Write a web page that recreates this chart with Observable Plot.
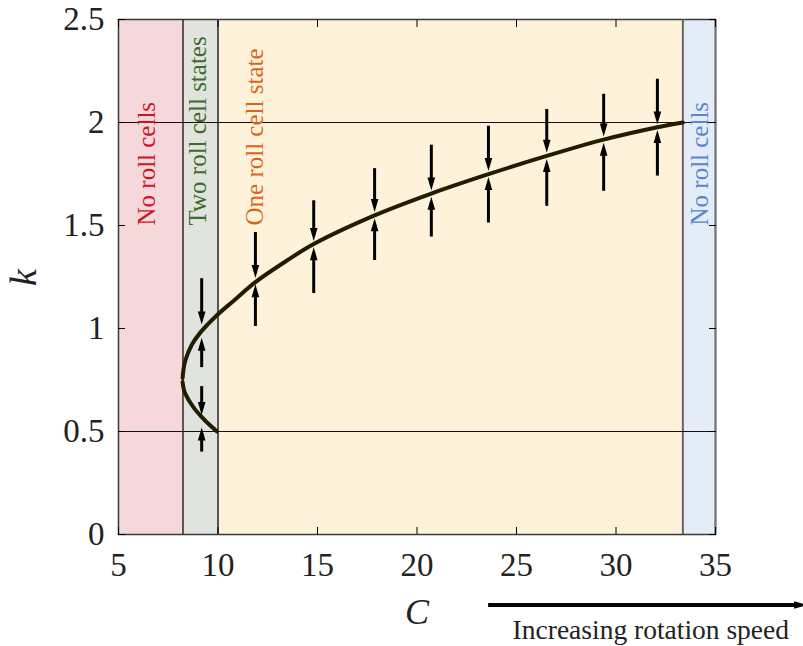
<!DOCTYPE html>
<html><head><meta charset="utf-8">
<script src="https://cdn.jsdelivr.net/npm/d3@7"></script>
<script src="https://cdn.jsdelivr.net/npm/@observablehq/plot@0.6"></script>
<style>
body{margin:0;background:#fff;}
#chart svg{display:block;}
</style></head><body><div id="chart"></div>
<script>
// ---- data ----
const xTicks = [5, 10, 15, 20, 25, 30, 35];
const yTicks = [0, 0.5, 1, 1.5, 2, 2.5];
const yTickLabels = ["0", "0.5", "1", "1.5", "2", "2.5"];

const bandStart = [5, 8.24, 10, 33.36];
const bandEnd = [8.24, 10, 33.36, 35];
const bandLabels = ["No roll cells", "Two roll cell states", "One roll cell state", "No roll cells"];
const labelC = [6.45, 9.02, 11.85, 34.2];
const labelK = 1.5;
const thresholdK = [0.5, 2];

// upper branch of the neutral curve (C, k)
const upperC = [8.22, 8.28, 8.36, 8.69, 9.11, 9.92, 10.79, 11.88, 13.47, 14.81, 17.87, 20.72, 23.59, 26.52, 29.38, 32.08, 33.36];
const upperK = [0.76, 0.81, 0.845, 0.922, 0.98, 1.062, 1.135, 1.225, 1.33, 1.41, 1.549, 1.655, 1.749, 1.838, 1.917, 1.977, 2.0];
// lower branch
const lowerC = [8.22, 8.27, 8.36, 8.77, 9.2, 9.6, 9.95];
const lowerK = [0.74, 0.71, 0.683, 0.617, 0.569, 0.53, 0.50];

// stability arrows
const arrowC = [9.18, 9.18, 11.88, 14.81, 17.87, 20.72, 23.59, 26.52, 29.38, 32.08];
const downFrom = [1.242, 0.718, 1.466, 1.62, 1.776, 1.89, 1.982, 2.063, 2.137, 2.21];
const downTo = [1.02, 0.58, 1.245, 1.425, 1.565, 1.67, 1.765, 1.853, 1.932, 1.99];
const upFrom = [0.81, 0.40, 1.01, 1.17, 1.33, 1.444, 1.512, 1.593, 1.666, 1.74];
const upTo = [0.955, 0.52, 1.215, 1.395, 1.535, 1.64, 1.735, 1.823, 1.902, 1.963];

const speedText = "Increasing rotation speed";
const speedFromC = 23.6, speedToC = 39.6, speedK = -0.342, speedTextC = 31.75, speedTextK = -0.465;

// ---- styles ----
const bandFill = ["#f4d8db", "#e1e4de", "#fef3da", "#e4ecf7"];
const labelColor = ["#d0141e", "#3d6b2c", "#d8671c", "#5a86cf"];
const edgeColor = ["#3a2020", "#555555", "#666666"];
const serif = "Liberation Serif, Times New Roman, serif";

const upper = upperC.map((c, i) => ({C: c, k: upperK[i]}));
const lower = lowerC.map((c, i) => ({C: c, k: lowerK[i]}));
const downs = arrowC.map((c, i) => ({C: c, from: downFrom[i], to: downTo[i]}));
const ups = arrowC.map((c, i) => ({C: c, from: upFrom[i], to: upTo[i]}));

// narrow filled arrow head, tip at origin pointing up
const head = {draw(ctx) { ctx.moveTo(0, 0); ctx.lineTo(3.8, 13); ctx.lineTo(-3.8, 13); ctx.closePath(); }};

const marks = [];
bandStart.forEach((s, i) => marks.push(Plot.rect([i], {x1: () => s, x2: () => bandEnd[i], y1: () => 0, y2: () => 2.5, fill: bandFill[i]})));
marks.push(Plot.frame({stroke: "#3a3a3a", strokeWidth: 1.5}));
marks.push(Plot.ruleX([bandEnd[0]], {stroke: edgeColor[0], strokeWidth: 1.5}));
marks.push(Plot.ruleX([bandEnd[1]], {stroke: edgeColor[1], strokeWidth: 2}));
marks.push(Plot.ruleX([bandEnd[2]], {stroke: edgeColor[2], strokeWidth: 2}));
marks.push(Plot.ruleX([35], {stroke: "#777", strokeWidth: 2}));
marks.push(Plot.ruleY(thresholdK, {stroke: "#111", strokeWidth: 1.2}));
bandLabels.forEach((t, i) => marks.push(Plot.text([t], {x: () => labelC[i], y: () => labelK, text: d => d, rotate: -90, textAnchor: "start", fill: labelColor[i], fontSize: 25, fontFamily: serif})));
marks.push(Plot.line(lower, {x: "C", y: "k", stroke: "#241c00", strokeWidth: 4, curve: "catmull-rom"}));
marks.push(Plot.line(upper, {x: "C", y: "k", stroke: "#241c00", strokeWidth: 4, curve: "catmull-rom"}));
marks.push(Plot.ruleX(downs, {x: "C", y1: "from", y2: "to", stroke: "#000", strokeWidth: 3, insetBottom: 6}));
marks.push(Plot.ruleX(ups, {x: "C", y1: "to", y2: "from", stroke: "#000", strokeWidth: 3, insetTop: 6}));
marks.push(Plot.dot(downs, {x: "C", y: "to", symbol: head, rotate: 180, fill: "#000", stroke: null, r: 3}));
marks.push(Plot.dot(ups, {x: "C", y: "to", symbol: head, rotate: 0, fill: "#000", stroke: null, r: 3}));
// axes with inward ticks
marks.push(Plot.axisX({ticks: xTicks, anchor: "bottom", tickSize: -7, tickPadding: 25, fontSize: 33, fontFamily: serif, fill: "#222", label: null}));
marks.push(Plot.axisX({ticks: xTicks, anchor: "top", tickSize: -7, tickFormat: () => "", label: null}));
marks.push(Plot.axisY({ticks: yTicks, anchor: "left", tickSize: -7, tickPadding: 21, tickFormat: d => yTickLabels[yTicks.indexOf(d)], fontSize: 33, fontFamily: serif, fill: "#222", label: null}));
marks.push(Plot.axisY({ticks: yTicks, anchor: "right", tickSize: -7, tickFormat: () => "", label: null}));
// axis labels
marks.push(Plot.text(["C"], {frameAnchor: "bottom", dy: 89, text: d => d, fontSize: 36, fontStyle: "italic", fontFamily: serif, fill: "#222"}));
marks.push(Plot.text(["k"], {frameAnchor: "left", dx: -95, dy: 9, rotate: -90, text: d => d, fontSize: 38, fontStyle: "italic", fontFamily: serif, fill: "#222"}));
// increasing rotation speed arrow
marks.push(Plot.ruleY([speedK], {x1: speedFromC, x2: speedToC, stroke: "#000", strokeWidth: 4, insetRight: 8}));
marks.push(Plot.dot([speedK], {x: speedToC, y: d => d, symbol: head, rotate: 90, fill: "#000", stroke: null, r: 3}));
marks.push(Plot.text([speedText], {x: () => speedTextC, y: () => speedTextK, text: d => d, fontSize: 27.5, fontFamily: serif, fill: "#222"}));

const chart = Plot.plot({
  width: 803, height: 646,
  marginLeft: 118, marginRight: 88, marginTop: 19, marginBottom: 112,
  x: {domain: [5, 35]},
  y: {domain: [0, 2.5]},
  clip: false,
  style: {fontFamily: serif, background: "#fff", overflow: "visible"},
  marks
});
document.getElementById("chart").appendChild(chart);
</script></body></html>
